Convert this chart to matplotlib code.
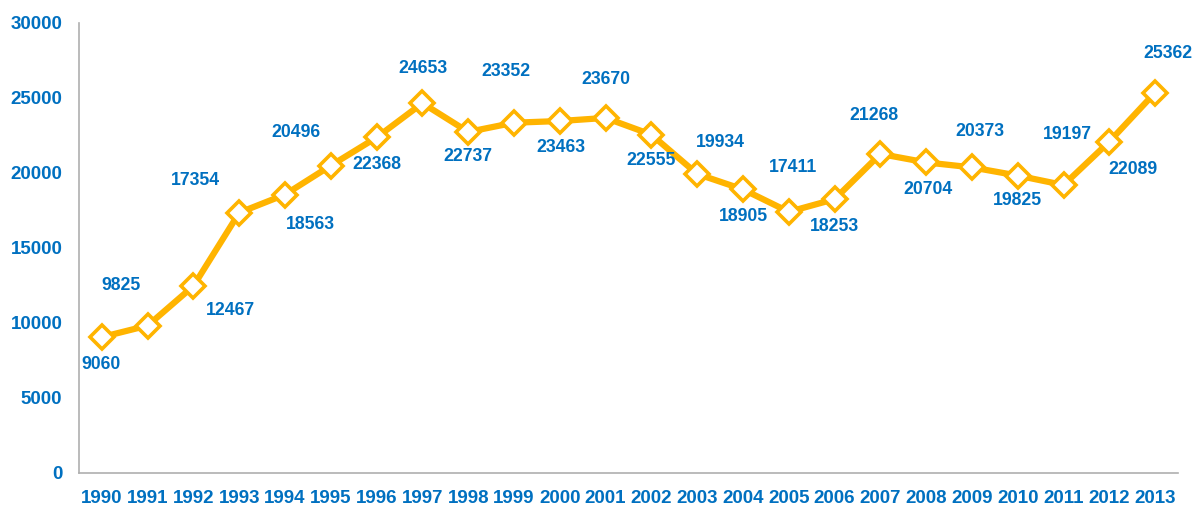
import matplotlib
matplotlib.use("Agg")
import matplotlib.pyplot as plt

years = [str(y) for y in range(1990, 2014)]
values = [9060, 9825, 12467, 17354, 18563, 20496, 22368, 24653, 22737, 23352,
          23463, 23670, 22555, 19934, 18905, 17411, 18253, 21268, 20704, 20373,
          19825, 19197, 22089, 25362]
y_ticks = [0, 5000, 10000, 15000, 20000, 25000, 30000]

# label offsets in pixels (dx, dy), dy positive = up
label_offsets = [(-1, -27), (-27, 40), (37, -25), (-44, 32), (25, -30), (-35, 33),
                 (0, -27), (0, 35), (0, -25), (-8, 51), (1, -26), (0, 38),
                 (0, -26), (23, 31), (0, -27), (4, 44), (0, -27), (-6, 38),
                 (2, -27), (8, 36), (0, -25), (4, 51), (24, -28), (13, 39)]

BLUE = "#0070C0"
ORANGE = "#FFB400"
plt.rcParams['font.family'] = ['Liberation Sans', 'DejaVu Sans']

fig = plt.figure(figsize=(11.95, 5.05), dpi=100)
ax = fig.add_axes([0.0661, 0.0634, 0.9197, 0.8911])

x = list(range(len(years)))
ax.plot(x, values, color=ORANGE, lw=4.5, marker='D', markersize=12.5,
        markerfacecolor='white', markeredgecolor=ORANGE, markeredgewidth=2.6,
        zorder=3, solid_joinstyle='round')

for xi, v, (dx, dy) in zip(x, values, label_offsets):
    ax.annotate(str(v), (xi, v), xytext=(dx, dy), textcoords='offset pixels',
                ha='center', va='center', color=BLUE, fontsize=12.7,
                fontweight='bold')

ax.set_xlim(-0.5, len(years) - 0.5)
ax.set_ylim(0, 30000)
ax.set_xticks(x)
ax.set_xticklabels(years)
ax.set_yticks(y_ticks)
ax.set_yticklabels([str(t) for t in y_ticks])
ax.tick_params(axis='both', length=0, labelcolor=BLUE, labelsize=13.5)
ax.tick_params(axis='y', pad=12)
ax.tick_params(axis='x', pad=12)
for lbl in ax.get_xticklabels() + ax.get_yticklabels():
    lbl.set_fontweight('bold')

for s in ['top', 'right']:
    ax.spines[s].set_visible(False)
for s in ['left', 'bottom']:
    ax.spines[s].set_color('#AFAFAF')
    ax.spines[s].set_linewidth(1.2)

fig.savefig("out.png", dpi=100)
